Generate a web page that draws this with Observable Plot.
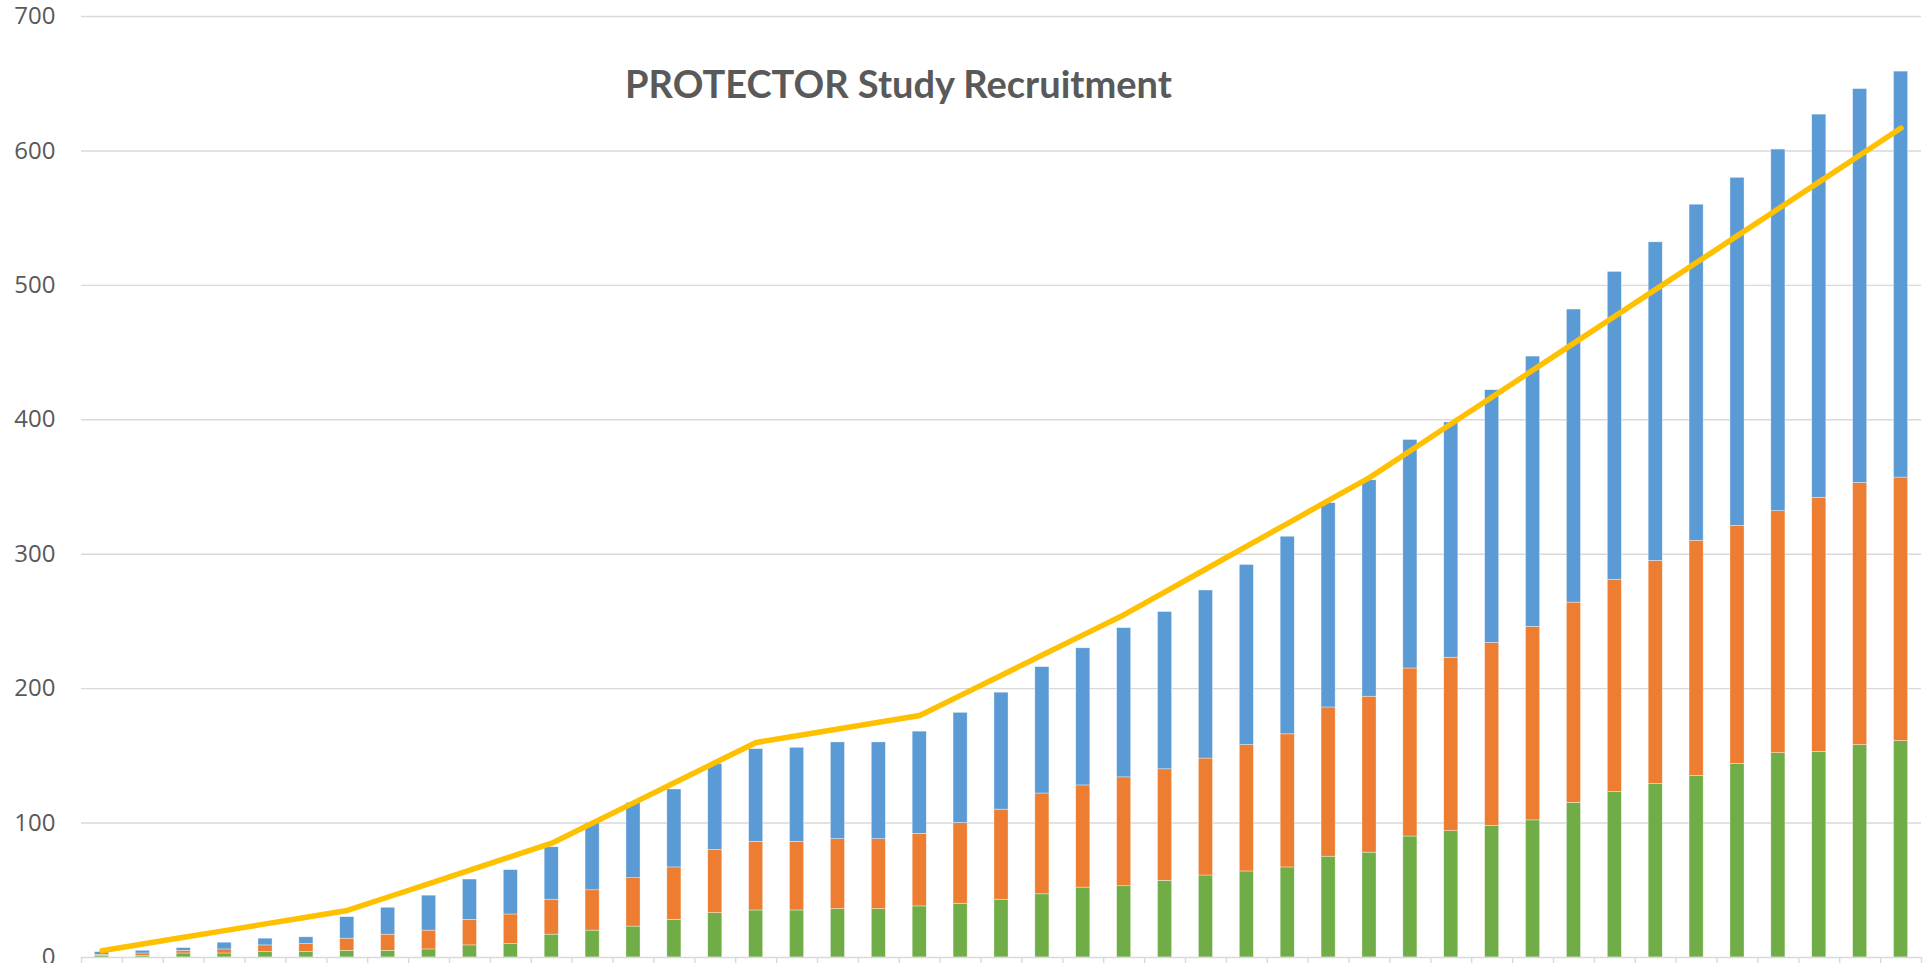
<!DOCTYPE html>
<html>
<head>
<meta charset="utf-8">
<script src="https://cdn.jsdelivr.net/npm/d3@7"></script>
<script src="https://cdn.jsdelivr.net/npm/@observablehq/plot@0.6"></script>
<style>
  html, body { margin: 0; padding: 0; background: #fff; overflow: hidden; }
  #chart svg { display: block; }
</style>
</head>
<body>
<div id="chart"></div>
<script>
// Categories (study months; no labels shown in the reference)
const months = [1,2,3,4,5,6,7,8,9,10,11,12,13,14,15,16,17,18,19,20,21,22,23,24,25,26,27,28,29,30,31,32,33,34,35,36,37,38,39,40,41,42,43,44,45];

// Stacked series (segment sizes), bottom to top
const seriesA = [1,1,3,3,4,4,5,5,6,9,10,17,20,23,28,33,35,35,36,36,38,40,43,47,52,53,57,61,64,67,75,78,90,94,98,102,115,123,129,135,144,152,153,158,161];
const seriesB = [1,2,2,3,5,6,9,12,14,19,22,26,30,36,39,47,51,51,52,52,54,60,67,75,76,81,83,87,94,99,111,116,125,129,136,144,149,158,166,175,177,180,189,195,196];
const seriesC = [2,2,2,5,5,5,16,20,26,30,33,39,50,56,58,64,69,70,72,72,76,82,87,94,102,111,117,125,134,147,152,161,170,175,188,201,218,229,237,250,259,269,285,293,302];

// Target line
const target = [5,10,15,20,25,30,35,45,55,65,75,85,100,115,130,145,160,165,170,175,180,195,210,225,240,255,272,289,306,323,340,357,377,397,417,437,457,477,497,517,537,557,577,597,617];

const yTicks = [0,100,200,300,400,500,600,700];
const seriesNames = ["Series A","Series B","Series C"];
const seriesColors = ["#70AD47","#ED7D31","#5B9BD5"];
const title = "PROTECTOR Study Recruitment";

const bars = months.flatMap((m, i) => [
  {m, series: seriesNames[0], value: seriesA[i]},
  {m, series: seriesNames[1], value: seriesB[i]},
  {m, series: seriesNames[2], value: seriesC[i]}
]);
const line = months.map((m, i) => ({m, value: target[i]}));

const chart = Plot.plot({
  width: 1932,
  height: 963,
  marginLeft: 81,
  marginRight: 11,
  marginTop: 16,
  marginBottom: 6,
  style: {fontFamily: "'Open Sans', sans-serif", fontSize: "24px", color: "#595959", background: "#fff", overflow: "hidden"},
  x: {domain: [1, 46]},
  y: {domain: [0, 700]},
  color: {type: "ordinal", domain: seriesNames, range: seriesColors},
  marks: [
    Plot.gridY({ticks: yTicks.slice(1), stroke: "#D9D9D9", strokeOpacity: 1, strokeWidth: 1.4}),
    Plot.axisY({ticks: yTicks, tickSize: 0, tickPadding: 26, label: null, fill: "#595959"}),
    Plot.rectY(bars, {x: "m", interval: 1, y: "value", fill: "series", insetLeft: 13.4, insetRight: 13.4, stroke: "#fff", strokeWidth: 0.6, strokeOpacity: 0.6}),
    Plot.ruleY([0], {stroke: "#D9D9D9", strokeWidth: 1.4}),
    Plot.axisX({ticks: d3.range(1, 47), tickSize: 8, tickFormat: () => "", stroke: "#D9D9D9", strokeWidth: 1.4, label: null}),
    Plot.line(line, {x: d => d.m + 0.5, y: "value", stroke: "#FFC000", strokeWidth: 5.5, strokeLinejoin: "round", strokeLinecap: "round"}),
    Plot.text([title], {frameAnchor: "top", dx: -103, dy: 69, text: d => d, fontSize: 38, fontWeight: "bold", fontFamily: "Lato", fill: "#595959", lineAnchor: "middle"})
  ]
});
document.getElementById("chart").appendChild(chart);
</script>
</body>
</html>
